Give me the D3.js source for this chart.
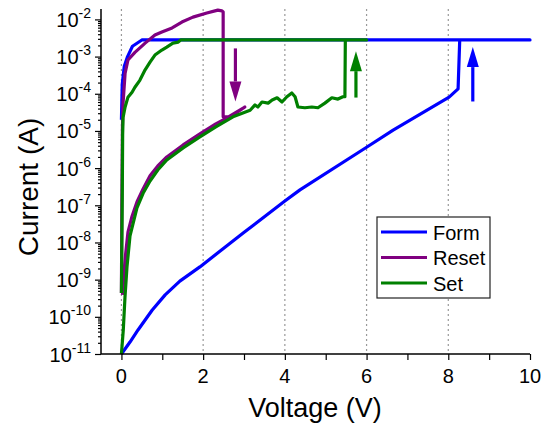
<!DOCTYPE html>
<html>
<head>
<meta charset="utf-8">
<script src="https://cdn.jsdelivr.net/npm/d3@7"></script>
<style>
  body { margin: 0; background: #fff; }
  text { font-family: Arial, "Liberation Sans", sans-serif; fill: #000; }
</style>
</head>
<body>
<svg width="546" height="426"></svg>
<script>
// data (voltage in V, current in A)
var formV = [0, 0.21, 0.41, 0.75, 1.07, 1.43, 1.92, 2.98, 4.0, 4.37, 6.01, 6.65, 8.02, 8.24, 8.28, 10, 0.5, 0.27, 0.15, 0.07, 0.02, 0];
var formI = [1e-11, 2.1e-11, 4.5e-11, 1.5e-10, 3.9e-10, 9.1e-10, 2.2e-9, 1.8e-8, 1.3e-7, 2.6e-7, 3.7e-6, 1.05e-5, 8.1e-5, 1.35e-4, 2.8e-3, 2.8e-3, 2.8e-3, 1.9e-3, 1.0e-3, 5.5e-4, 1.8e-4, 2.0e-5];

var resetV = [0, 0.01, 0.025, 0.04, 0.09, 0.16, 0.33, 0.58, 0.82, 0.99, 1.24, 1.48, 1.75, 2.09, 2.36, 2.46, 2.49, 2.49, 2.62, 3.02, 2.8, 2.31, 1.92, 1.51, 1.11, 0.89, 0.7, 0.53, 0.38, 0.26, 0.16, 0.1, 0.063, 0.026];
var resetI = [4.4e-10, 1.0e-7, 1.26e-5, 5.6e-5, 3.6e-4, 8.1e-4, 1.3e-3, 2.3e-3, 3.8e-3, 4.6e-3, 5.9e-3, 8.5e-3, 1.15e-2, 1.48e-2, 1.78e-2, 1.7e-2, 1.58e-2, 2.4e-5, 2.4e-5, 4.4e-5, 3.0e-5, 1.55e-5, 8.3e-6, 4.2e-6, 2.0e-6, 1.15e-6, 6.2e-7, 2.75e-7, 1.23e-7, 5.1e-8, 1.9e-8, 4.6e-9, 1.3e-9, 3.9e-10];

var setV = [0, 0.046, 0.087, 0.136, 0.21, 0.38, 0.53, 0.7, 0.89, 1.11, 1.51, 1.92, 2.31, 2.73, 3.02, 3.15, 3.27, 3.34, 3.44, 3.59, 3.69, 3.81, 3.93, 4.05, 4.17, 4.25, 4.32, 4.49, 4.66, 4.81, 4.98, 5.15, 5.3, 5.42, 5.47, 5.48, 6.0, 1.45, 1.39, 1.26, 1.11, 0.99, 0.82, 0.7, 0.58, 0.45, 0.33, 0.26, 0.16, 0.09, 0.04, 0.03, 0.02, 0];
var setI = [1e-11, 4.5e-11, 3.4e-10, 2.2e-9, 1.5e-8, 8.5e-8, 2.1e-7, 4.5e-7, 8.9e-7, 1.66e-6, 3.5e-6, 6.9e-6, 1.29e-5, 2.4e-5, 3.2e-5, 3.6e-5, 5.0e-5, 4.4e-5, 6.0e-5, 5.6e-5, 6.8e-5, 7.8e-5, 6.0e-5, 8.3e-5, 1.05e-4, 8.3e-5, 4.4e-5, 4.2e-5, 4.4e-5, 4.2e-5, 5.6e-5, 7.8e-5, 7.2e-5, 8.3e-5, 8.3e-5, 2.8e-3, 2.8e-3, 2.8e-3, 2.45e-3, 2.3e-3, 1.8e-3, 1.5e-3, 1.1e-3, 7.1e-4, 4.4e-4, 2.3e-4, 1.5e-4, 1.1e-4, 8.1e-5, 4.4e-5, 2.3e-5, 7.8e-6, 1.4e-7, 4.4e-10];

// arrows: x position, tail and tip current
var arrowV = [2.79, 5.74, 8.6];
var arrowFrom = [1.66e-3, 7.9e-5, 6.2e-5];
var arrowTo = [6.2e-5, 1.4e-3, 1.8e-3];

var seriesNames = ["Form", "Reset", "Set"];
var colors = ["#0000ff", "#800080", "#008000"];
var xTicks = [0, 2, 4, 6, 8, 10];
var xMinor = [1, 3, 5, 7, 9];
var yExps = [-11, -10, -9, -8, -7, -6, -5, -4, -3, -2];

var svg = d3.select("svg");

var x = d3.scaleLinear().domain([-0.5, 10]).range([101, 530]);
var y = d3.scaleLog().domain([1e-11, Math.pow(10, -1.72)]).range([354, 9]);

// dotted grid
svg.append("g").selectAll("line")
    .data(xTicks.filter(d => d < 10))
    .enter().append("line")
    .attr("x1", d => x(d)).attr("x2", d => x(d))
    .attr("y1", y.range()[1]).attr("y2", y.range()[0])
    .attr("stroke", "#999")
    .attr("stroke-width", 1.2)
    .attr("stroke-dasharray", "2,3");

// curves
var line = d3.line().x(d => x(d[0])).y(d => y(d[1]));
var series = [
    d3.zip(formV, formI),
    d3.zip(resetV, resetI),
    d3.zip(setV, setI)
];
series.forEach((s, i) => {
    svg.append("path")
        .attr("d", line(s))
        .attr("fill", "none")
        .attr("stroke", colors[i])
        .attr("stroke-width", 3.2)
        .attr("stroke-linejoin", "round");
});

// arrows (purple, green, blue)
var arrowColors = [colors[1], colors[2], colors[0]];
arrowV.forEach((v, i) => {
    var ax = x(v), y0 = y(arrowFrom[i]), y1 = y(arrowTo[i]);
    var dir = y1 > y0 ? 1 : -1;
    var headLen = 20, half = 6;
    svg.append("line")
        .attr("x1", ax).attr("x2", ax)
        .attr("y1", y0).attr("y2", y1 - dir * headLen)
        .attr("stroke", arrowColors[i])
        .attr("stroke-width", 3.2);
    svg.append("path")
        .attr("d", "M" + ax + "," + y1 + "L" + (ax - half) + "," + (y1 - dir * headLen) +
              "L" + (ax + half) + "," + (y1 - dir * headLen) + "Z")
        .attr("fill", arrowColors[i]);
});

// axes
var xAxis = d3.axisBottom(x).tickValues(xTicks.concat(xMinor)).tickSize(6).tickFormat("");
svg.append("g")
    .attr("transform", "translate(0,354)")
    .call(xAxis)
    .call(g => g.select(".domain").attr("stroke-width", 1.5).attr("d", "M101,0H530"))
    .call(g => g.selectAll(".tick line").attr("stroke-width", 1.2));

svg.append("g").selectAll("text")
    .data(xTicks)
    .enter().append("text")
    .attr("x", d => x(d))
    .attr("y", 383)
    .attr("text-anchor", "middle")
    .attr("font-size", "20px")
    .text(d => d);

var minorY = [];
for (var e = -11; e <= -2; e++) {
    for (var m = 1; m <= 9; m++) {
        var v = m * Math.pow(10, e);
        if (v <= y.domain()[1]) minorY.push(v);
    }
}
var yAxis = d3.axisLeft(y).tickValues(minorY).tickFormat("")
    .tickSize(3);
svg.append("g")
    .attr("transform", "translate(101,0)")
    .call(yAxis)
    .call(g => g.select(".domain").attr("stroke-width", 1.5).attr("d", "M0,9V354"))
    .call(g => g.selectAll(".tick line")
        .attr("x2", d => Math.abs(Math.log10(d) - Math.round(Math.log10(d))) < 1e-6 ? -6 : -3)
        .attr("stroke-width", 1.2));

var yLab = svg.append("g").selectAll("text")
    .data(yExps)
    .enter().append("text")
    .attr("x", 91)
    .attr("y", d => y(Math.pow(10, d)) + 7.5)
    .attr("text-anchor", "end")
    .attr("font-size", "20px");
yLab.append("tspan").text("10");
yLab.append("tspan")
    .attr("font-size", "14px")
    .attr("dy", -9)
    .text(d => "-" + Math.abs(d));

// axis titles
svg.append("text")
    .attr("x", 315)
    .attr("y", 417)
    .attr("text-anchor", "middle")
    .attr("font-size", "27px")
    .text("Voltage (V)");

svg.append("text")
    .attr("transform", "translate(38,187) rotate(-90)")
    .attr("text-anchor", "middle")
    .attr("font-size", "28px")
    .text("Current (A)");

// legend
var legend = svg.append("g").attr("transform", "translate(377,217)");
legend.append("rect")
    .attr("width", 113).attr("height", 81)
    .attr("fill", "#fff")
    .attr("stroke", "#222")
    .attr("stroke-width", 1.2);
seriesNames.forEach((name, i) => {
    legend.append("line")
        .attr("x1", 4).attr("x2", 50)
        .attr("y1", 15 + i * 25.5).attr("y2", 15 + i * 25.5)
        .attr("stroke", colors[i])
        .attr("stroke-width", 3.2);
    legend.append("text")
        .attr("x", 56)
        .attr("y", 22.5 + i * 25.5)
        .attr("font-size", "20px")
        .text(name);
});
</script>
</body>
</html>
